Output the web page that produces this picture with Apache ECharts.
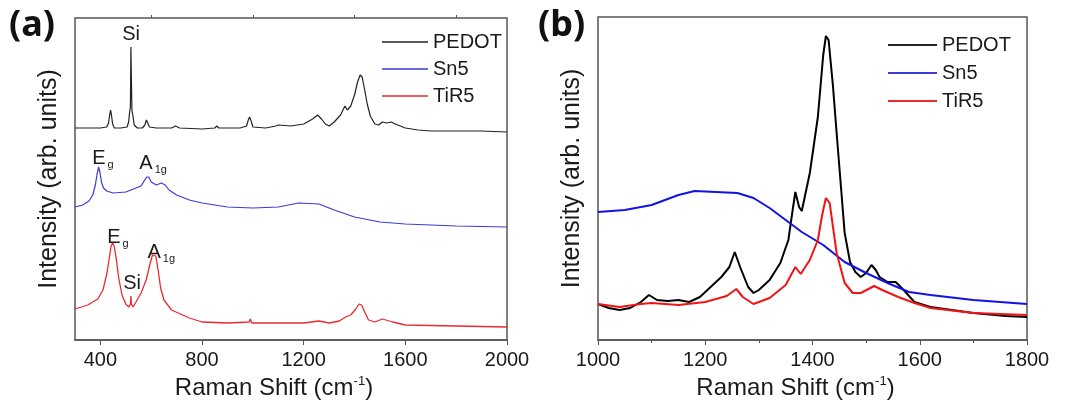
<!DOCTYPE html>
<html>
<head>
<meta charset="utf-8">
<script src="https://cdn.jsdelivr.net/npm/echarts@6/dist/echarts.min.js"></script>
<style>
  body { margin: 0; background: #fff; }
  #main { width: 1065px; height: 409px; }
</style>
</head>
<body>
<div id="main"></div>
<script>
// panel (a): stacked spectra, 300 - 2000 cm-1
var ticksA = [400, 800, 1200, 1600, 2000]
var minorTicksA = [600, 1000, 1400, 1800]
var pedotA = [[300,212],[350,212],[400,212],[425,213],[432,217],[437,226],[440,230],[443,226],[448,216],[455,212],[480,212],[505,213],[511,218],[515,228],[518,233],[519,260],[520,293],[521,293],[522,260],[524,230],[528,224],[533,215],[545,212],[565,212],[575,215],[581,220],[586,218],[593,213],[620,212],[680,212],[695,214],[702,215],[712,212],[800,211],[850,212],[858,214],[866,212],[950,212],[975,214],[982,220],[987,223],[993,219],[1000,213],[1050,212],[1090,214],[1100,215],[1150,214],[1200,216],[1235,221],[1255,225],[1270,221],[1285,216],[1300,214],[1320,218],[1345,225],[1362,234],[1372,230],[1385,234],[1400,245],[1412,258],[1422,265],[1430,263],[1440,250],[1450,236],[1462,224],[1480,216],[1495,215],[1510,218],[1525,217],[1545,218],[1560,216],[1580,214],[1600,212],[1650,210],[1700,209],[1800,209],[1900,209],[2000,208]]
var sn5A = [[300,133],[330,135],[355,139],[370,145],[380,155],[387,166],[393,173],[398,168],[404,158],[412,152],[425,149],[450,147],[500,148],[540,152],[560,154],[572,159],[582,163],[590,163],[600,158],[620,155],[640,157],[655,155],[670,150],[700,145],[750,140],[800,137],[900,133],[1000,132],[1100,133],[1180,137],[1260,136],[1320,130],[1400,123],[1500,118],[1600,116],[1800,114],[2000,113]]
var tir5A = [[300,31],[350,35],[390,41],[410,50],[425,66],[435,82],[442,94],[448,97],[454,94],[462,82],[472,62],[485,45],[500,36],[512,33],[518,36],[520,44],[522,36],[528,33],[540,38],[560,47],[580,60],[595,76],[605,85],[612,87],[618,84],[627,70],[637,52],[650,40],[680,30],[750,22],[800,18],[900,17],[985,18],[990,21],[995,17],[1100,17],[1200,17],[1260,19],[1300,17],[1340,19],[1365,23],[1385,25],[1405,31],[1418,36],[1428,35],[1440,28],[1455,20],[1480,18],[1510,21],[1550,18],[1600,15],[1800,14],[2000,13]]

// peak labels in panel (a): x, y, main text, subscript
var notesA = [
    [486, 306, 'Si', ''],
    [368, 182, 'E', 'g'],
    [553, 177, 'A', '1g'],
    [427, 103, 'E', 'g'],
    [490, 57, 'Si', ''],
    [585, 88, 'A', '1g']
]

// panel (b): zoom 1000 - 1800 cm-1
var pedotB = [[1000,36],[1020,32],[1040,30],[1060,32],[1080,38],[1095,45],[1110,40],[1130,39],[1150,40],[1170,38],[1190,43],[1210,53],[1230,63],[1245,73],[1255,88],[1265,73],[1280,53],[1290,47],[1300,50],[1320,60],[1340,77],[1355,100],[1363,130],[1368,148],[1375,133],[1380,129],[1395,167],[1410,223],[1420,285],[1425,304],[1430,300],[1438,255],[1445,207],[1460,107],[1470,78],[1480,68],[1490,63],[1500,67],[1510,75],[1518,70],[1525,63],[1540,58],[1555,58],[1570,50],[1590,38],[1620,33],[1660,30],[1700,27],[1760,24],[1800,23]]
var sn5B = [[1000,128],[1050,130],[1100,135],[1150,145],[1180,149],[1220,148],[1260,147],[1290,142],[1320,132],[1350,120],[1380,108],[1420,95],[1460,78],[1500,67],[1540,57],[1580,48],[1620,45],[1700,40],[1800,36]]
var tir5B = [[1000,36],[1040,33],[1080,36],[1100,37],[1150,35],[1200,38],[1240,44],[1258,51],[1270,43],[1290,36],[1320,42],[1350,55],[1368,73],[1378,66],[1395,80],[1410,100],[1418,125],[1425,142],[1432,137],[1445,87],[1460,57],[1475,47],[1490,47],[1515,54],[1530,50],[1560,43],[1590,37],[1620,32],[1700,27],[1800,25]]

var names = ['PEDOT', 'Sn5', 'TiR5']
var font = "'Liberation Sans', Arial, sans-serif"
var txt = '#1a1a1a'
var frame = '#555'

var chart = echarts.init(document.getElementById('main'))

function xName() {
    return {
        name: '{n|Raman Shift (cm}{s|-1}{n|)}',
        nameLocation: 'middle',
        nameGap: 31,
        nameTextStyle: {
            padding: [0, 34, 0, 0],
            rich: {
                n: {fontSize: 24, fontFamily: font, color: txt, lineHeight: 27},
                s: {fontSize: 13, fontFamily: font, color: txt, lineHeight: 10, verticalAlign: 'top'}
            }
        }
    }
}

function yAxisFor(grid, max) {
    return {
        type: 'value', gridIndex: grid, min: 0, max: max,
        axisLine: {show: false}, axisTick: {show: false},
        axisLabel: {show: false}, splitLine: {show: false},
        name: 'Intensity (arb. units)',
        nameLocation: 'middle',
        nameGap: 13,
        nameTextStyle: {fontSize: 25, fontFamily: font, color: txt}
    }
}

function line(name, data, color, width, xi, yi) {
    return {
        name: name, type: 'line', data: data,
        xAxisIndex: xi, yAxisIndex: yi,
        symbol: 'none', smooth: false,
        lineStyle: {color: color, width: width},
        itemStyle: {color: color},
        silent: true, animation: false
    }
}

var labelStyle = {
    fontSize: 20, fontFamily: font, color: txt, margin: 10,
    formatter: function (v) { return String(v) }
}

var option = {
    animation: false,
    grid: [
        {left: 75, right: 558, top: 18, bottom: 69, show: true, borderColor: frame, borderWidth: 1.5},
        {left: 598, right: 38, top: 17, bottom: 69, show: true, borderColor: frame, borderWidth: 1.5}
    ],
    xAxis: [
        Object.assign({
            type: 'value', gridIndex: 0, min: 300, max: 2000,
            axisLine: {lineStyle: {color: frame, width: 1.5}},
            axisTick: {customValues: ticksA, length: 5, lineStyle: {color: frame}},
            axisLabel: Object.assign({customValues: ticksA}, labelStyle),
            splitLine: {show: false}
        }, xName()),
        {
            type: 'value', gridIndex: 0, min: 300, max: 2000,
            axisLine: {show: false},
            axisTick: {customValues: minorTicksA, length: 3, lineStyle: {color: frame}},
            axisLabel: {show: false},
            splitLine: {show: false}
        },
        Object.assign({
            type: 'value', gridIndex: 1, min: 1000, max: 1800, interval: 200,
            axisLine: {lineStyle: {color: frame, width: 1.5}},
            axisTick: {length: 5, lineStyle: {color: frame}},
            minorTick: {show: true, splitNumber: 2, length: 3, lineStyle: {color: frame}},
            axisLabel: labelStyle,
            splitLine: {show: false}
        }, xName())
    ],
    yAxis: [yAxisFor(0, 322), yAxisFor(1, 323)],
    legend: [
        {
            data: names, orient: 'vertical', left: 377, top: 27,
            icon: 'rect', itemWidth: 46, itemHeight: 1.5, itemGap: 7,
            textStyle: {fontSize: 20, fontFamily: font, color: txt, lineHeight: 20},
            selectedMode: false
        },
        {
            data: names, orient: 'vertical', left: 883, top: 30,
            icon: 'rect', itemWidth: 49, itemHeight: 2.2, itemGap: 8,
            textStyle: {fontSize: 20, fontFamily: font, color: txt, lineHeight: 20},
            selectedMode: false
        }
    ],
    series: [
        line('PEDOT', pedotA, '#222', 1.2, 0, 0),
        line('Sn5', sn5A, '#3a3ad8', 1.2, 0, 0),
        line('TiR5', tir5A, '#ea2a30', 1.3, 0, 0),
        line('PEDOT', pedotB, '#000', 2, 2, 1),
        line('Sn5', sn5B, '#1212e6', 2, 2, 1),
        line('TiR5', tir5B, '#f21414', 2, 2, 1)
    ]
}

chart.setOption(option)

// panel tags and peak labels, placed from data coordinates
var graphics = [
    {type: 'text', left: 9, top: 8, style: {text: '(a)', font: 'bold 36px "Noto Sans", sans-serif', fill: '#111'}},
    {type: 'text', left: 538, top: 8, style: {text: '(b)', font: 'bold 36px "Noto Sans", sans-serif', fill: '#111'}}
]
notesA.forEach(function (n) {
    var p = chart.convertToPixel({xAxisIndex: 0, yAxisIndex: 0}, [n[0], n[1]])
    graphics.push({
        type: 'text', x: p[0], y: p[1],
        style: {
            text: n[3] ? '{m|' + n[2] + '}{s|' + n[3] + '}' : '{m|' + n[2] + '}',
            verticalAlign: 'middle', align: 'left',
            rich: {
                m: {fontSize: 20, fontFamily: font, fill: txt, lineHeight: 24},
                s: {fontSize: 11, fontFamily: font, fill: txt, lineHeight: 8, verticalAlign: 'bottom', padding: [0, 0, 0, 2]}
            }
        }
    })
})
chart.setOption({graphic: graphics})
</script>
</body>
</html>
